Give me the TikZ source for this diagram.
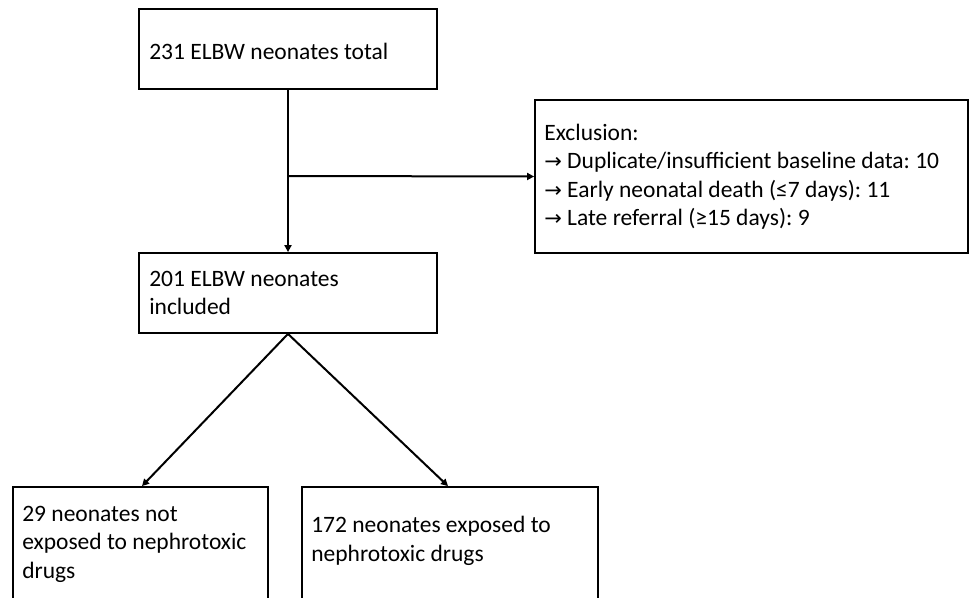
\documentclass[tikz,border=0pt]{standalone}
\usepackage{fontspec}
\setmainfont{Carlito}
\newfontfamily\symfont{DejaVu Sans}
\usetikzlibrary{arrows.meta}
\newcommand{\rarr}{{\symfont\fontsize{21bp}{28bp}\selectfont →}}
\begin{document}
\begin{tikzpicture}[x=1bp,y=-1bp,
  box/.style={draw, line width=1.8bp, rectangle, inner sep=0pt},
  txt/.style={anchor=west, inner xsep=0pt, inner ysep=0pt, align=left,
    font=\fontsize{23.5bp}{28.5bp}\selectfont\frenchspacing},
  conn/.style={line width=2bp, -{Triangle[length=7bp,width=7bp]}}]
\useasboundingbox (0,0) rectangle (970,598);
\begin{scope}
\clip (0,0) rectangle (970,598);
\node[box, minimum width=298bp, minimum height=80bp] (b1) at (288,49) {};
\node[box, minimum width=433bp, minimum height=153bp] (ex) at (751.5,176.5) {};
\node[box, minimum width=298bp, minimum height=80bp] (b2) at (288,293) {};
\node[box, minimum width=255bp, minimum height=133bp] (b3) at (140.5,553.5) {};
\node[box, minimum width=296bp, minimum height=133bp] (b4) at (450,553.5) {};
\end{scope}
\node[txt] (t1) at ([xshift=11bp,yshift=-2bp]b1.west) {231 ELBW neonates total};
\node[txt] (tex) at ([xshift=10bp]ex.west) {Exclusion:\\
\rarr\ Duplicate/insufficient baseline data: 10\\
\rarr\ Early neonatal death (≤7 days): 11\\
\rarr\ Late referral (≥15 days): 9};
\node[txt] (t2) at ([xshift=11bp]b2.west) {201 ELBW neonates\\included};
\node[txt] (t3) at ([xshift=10bp,yshift=-58bp]b3.north west) {29 neonates not\\exposed to nephrotoxic\\drugs};
\node[txt] (t4) at ([xshift=10bp,yshift=-55bp]b4.north west) {172 neonates exposed to\\nephrotoxic drugs};
\coordinate (br) at (288,176);
\draw[conn] (b1.south) -- (b2.north);
\draw[conn] (br) -- (ex.west);
\draw[conn] (b2.south) -- ([xshift=1.5bp]b3.north);
\draw[conn] (b2.south) -- ([xshift=-2bp]b4.north);
\end{tikzpicture}
\end{document}
